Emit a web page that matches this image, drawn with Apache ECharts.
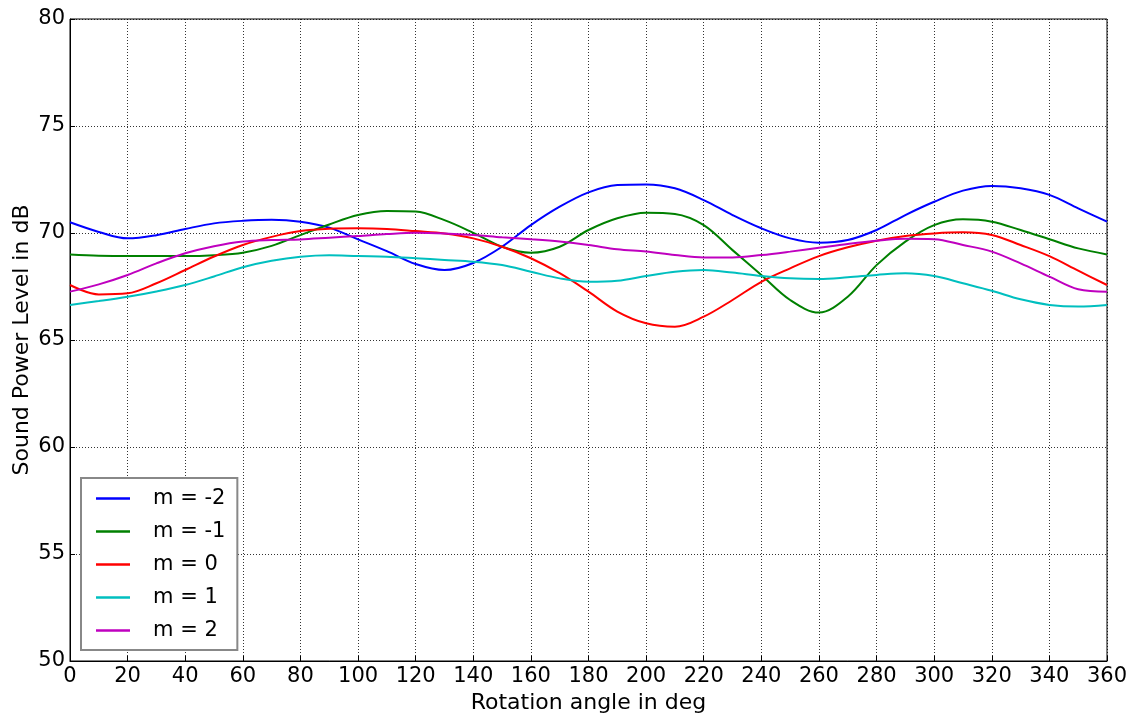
<!DOCTYPE html>
<html>
<head>
<meta charset="utf-8">
<script src="https://cdn.jsdelivr.net/npm/echarts@6/dist/echarts.min.js"></script>
<style>
  html, body { margin: 0; padding: 0; background: #fff; }
  #chart { width: 1136px; height: 715px; }
</style>
</head>
<body>
<div id="chart"></div>
<script>
// rotation angle, every 10 deg
const angles = [0, 10, 20, 30, 40, 50, 60, 70, 80, 90, 100, 110, 120, 130, 140, 150, 160, 170, 180,
  190, 200, 210, 220, 230, 240, 250, 260, 270, 280, 290, 300, 310, 320, 330, 340, 350, 360];

const mMinus2 = [70.50, 70.05, 69.75, 69.90, 70.19, 70.45, 70.57, 70.62, 70.53, 70.25, 69.70, 69.15, 68.55, 68.27, 68.60, 69.36, 70.37, 71.23, 71.90,
  72.24, 72.27, 72.09, 71.54, 70.84, 70.22, 69.75, 69.55, 69.67, 70.14, 70.84, 71.46, 71.98, 72.20, 72.09, 71.78, 71.15, 70.53];
const mMinus1 = [69.00, 68.94, 68.92, 68.92, 68.92, 68.96, 69.08, 69.40, 69.90, 70.40, 70.84, 71.03, 71.00, 70.60, 70.01, 69.36, 69.08, 69.36, 70.14,
  70.69, 70.95, 70.89, 70.37, 69.20, 68.04, 66.87, 66.28, 67.02, 68.50, 69.60, 70.37, 70.64, 70.53, 70.14, 69.71, 69.28, 69.00];
const m0 = [67.57, 67.13, 67.18, 67.65, 68.27, 68.90, 69.44, 69.82, 70.09, 70.20, 70.22, 70.19, 70.09, 69.98, 69.75, 69.36, 68.82, 68.12, 67.26,
  66.33, 65.78, 65.62, 66.09, 66.87, 67.72, 68.35, 68.92, 69.33, 69.64, 69.86, 69.98, 70.03, 69.91, 69.44, 68.92, 68.24, 67.57];
const m1 = [66.64, 66.82, 67.02, 67.27, 67.57, 67.97, 68.40, 68.70, 68.89, 68.96, 68.92, 68.89, 68.82, 68.74, 68.66, 68.50, 68.19, 67.88, 67.72,
  67.77, 67.99, 68.19, 68.27, 68.15, 67.99, 67.88, 67.85, 67.93, 68.04, 68.12, 67.99, 67.65, 67.30, 66.90, 66.64, 66.56, 66.64];
const m2 = [67.26, 67.60, 68.04, 68.58, 69.05, 69.38, 69.60, 69.67, 69.70, 69.78, 69.86, 69.95, 70.01, 69.98, 69.91, 69.80, 69.71, 69.60, 69.44,
  69.24, 69.13, 68.97, 68.86, 68.86, 68.97, 69.13, 69.31, 69.49, 69.64, 69.73, 69.71, 69.44, 69.13, 68.58, 67.96, 67.37, 67.26];

const seriesNames = ['m = -2', 'm = -1', 'm = 0', 'm = 1', 'm = 2'];
const seriesValues = [mMinus2, mMinus1, m0, m1, m2];
const seriesColors = ['#0000ff', '#008000', '#ff0000', '#00bfbf', '#bf00bf'];

const FONT = 'DejaVu Sans';
const chart = echarts.init(document.getElementById('chart'), null, { renderer: 'canvas' });

const gridLine = { show: true, lineStyle: { color: '#000', type: [1, 2], width: 1, opacity: 0.8 } };

chart.setOption({
  backgroundColor: '#fff',
  animation: false,
  textStyle: { fontFamily: FONT },
  grid: {
    left: 70, right: 29, top: 19, bottom: 54,
    outerBoundsMode: 'none',
    containLabel: false,
    show: true, borderColor: '#000', borderWidth: 1, backgroundColor: 'transparent'
  },
  legend: {
    orient: 'vertical',
    left: 81, top: 478,
    padding: [10, 12, 9, 15],
    icon: 'rect',
    itemWidth: 34, itemHeight: 2.5,
    itemGap: 12,
    borderColor: '#888', borderWidth: 2,
    backgroundColor: '#fff',
    textStyle: { fontFamily: FONT, fontSize: 21, color: '#000', padding: [0, 0, 0, 18] },
    data: seriesNames
  },
  xAxis: {
    type: 'value',
    min: 0, max: 360, interval: 20,
    name: 'Rotation angle in deg',
    nameLocation: 'middle',
    nameGap: 27,
    nameTextStyle: { fontFamily: FONT, fontSize: 22, color: '#000' },
    axisLine: { show: true, lineStyle: { color: '#000' } },
    axisTick: { show: true, inside: true, length: 5, lineStyle: { color: '#000' } },
    axisLabel: { fontFamily: FONT, fontSize: 21, color: '#000', margin: 5 },
    splitLine: gridLine
  },
  yAxis: {
    type: 'value',
    min: 50, max: 80, interval: 5,
    name: 'Sound Power Level in dB',
    nameLocation: 'middle',
    nameGap: 37,
    nameMoveOverlap: false,
    nameTextStyle: { fontFamily: FONT, fontSize: 22, color: '#000' },
    axisLine: { show: true, lineStyle: { color: '#000' } },
    axisTick: { show: true, inside: true, length: 5, lineStyle: { color: '#000' } },
    axisLabel: { fontFamily: FONT, fontSize: 21, color: '#000', margin: 5 },
    splitLine: gridLine
  },
  series: seriesNames.map((name, i) => ({
    name,
    type: 'line',
    smooth: 0.35,
    symbol: 'none',
    color: seriesColors[i],
    lineStyle: { width: 2, color: seriesColors[i] },
    data: angles.map((a, j) => [a, seriesValues[i][j]])
  }))
});
</script>
</body>
</html>
